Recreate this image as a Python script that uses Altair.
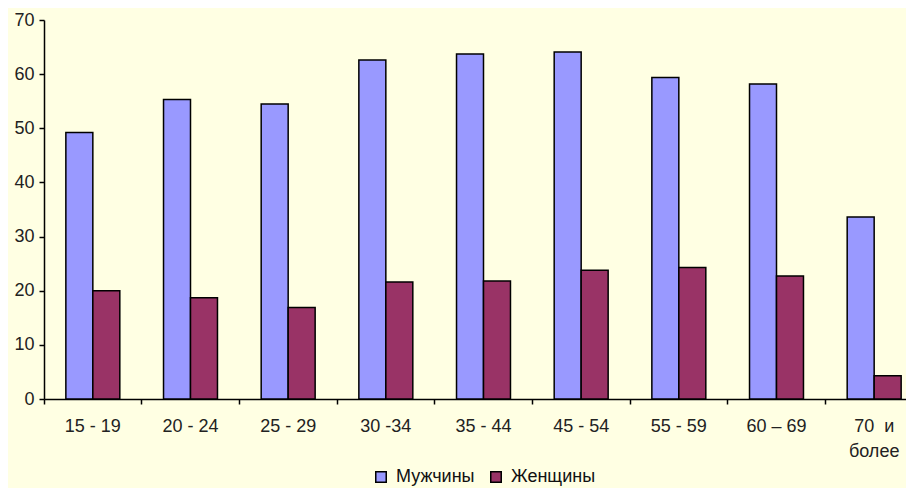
import altair as alt
import pandas as pd

categories = ["15 - 19", "20 - 24", "25 - 29", "30 -34", "35 - 44",
              "45 - 54", "55 - 59", "60 – 69", "70\u00a0\u00a0и\nболее"]
series = ["Мужчины", "Женщины"]
men = [49.2, 55.3, 54.5, 62.6, 63.7, 64.1, 59.4, 58.2, 33.6]
women = [20.0, 18.7, 16.9, 21.6, 21.8, 23.8, 24.3, 22.7, 4.3]
colors = ["#9999FF", "#993366"]
y_ticks = [0, 10, 20, 30, 40, 50, 60, 70]

rows = []
for c, m, w in zip(categories, men, women):
    rows.append({"age": c, "sex": series[0], "value": m})
    rows.append({"age": c, "sex": series[1], "value": w})
df = pd.DataFrame(rows)

FONT = "Liberation Sans, Arial, sans-serif"

chart = alt.Chart(df).mark_bar(stroke="black", strokeWidth=1.5).encode(
    x=alt.X("age:N", sort=categories,
            scale=alt.Scale(range=[0, 879], paddingInner=0, paddingOuter=0),
            axis=alt.Axis(title=None, bandPosition=0, labelAngle=0,
                          labelAlign="center", labelBaseline="top",
                          labelPadding=13, labelLineHeight=25,
                          labelExpr="split(datum.label, '\\n')",
                          tickSize=5, tickWidth=1.5, tickColor="black",
                          domainColor="black", domainWidth=1.5,
                          labelFontSize=18, labelColor="#222222", labelFont=FONT)),
    xOffset=alt.XOffset("sex:N", sort=series,
                        scale=alt.Scale(paddingInner=0, paddingOuter=0.81)),
    y=alt.Y("value:Q", scale=alt.Scale(domain=[0, 70], nice=False),
            axis=alt.Axis(title=None, values=y_ticks, grid=False,
                          tickSize=5, tickWidth=1.5, tickColor="black",
                          domainColor="black", domainWidth=1.5, labelPadding=5,
                          labelFontSize=18, labelColor="#222222", labelFont=FONT)),
    fill=alt.Fill("sex:N", sort=series,
                  scale=alt.Scale(domain=series, range=colors),
                  legend=alt.Legend(title=None, orient="none", legendX=328, legendY=448,
                                    direction="horizontal", symbolType="square",
                                    symbolSize=110, symbolStrokeColor="black",
                                    symbolStrokeWidth=1.5, labelFontSize=18,
                                    labelFont=FONT, labelColor="#111111",
                                    labelOffset=6, columnPadding=12)),
).properties(
    width=862, height=379,
    autosize=alt.AutoSizeParams(type="none"),
    padding={"left": 36, "top": 12, "right": 0, "bottom": 89},
    background="#FFFFE3",
).configure_view(stroke=None)

chart.save("out.html", embed_options={"renderer": "svg", "actions": False})
